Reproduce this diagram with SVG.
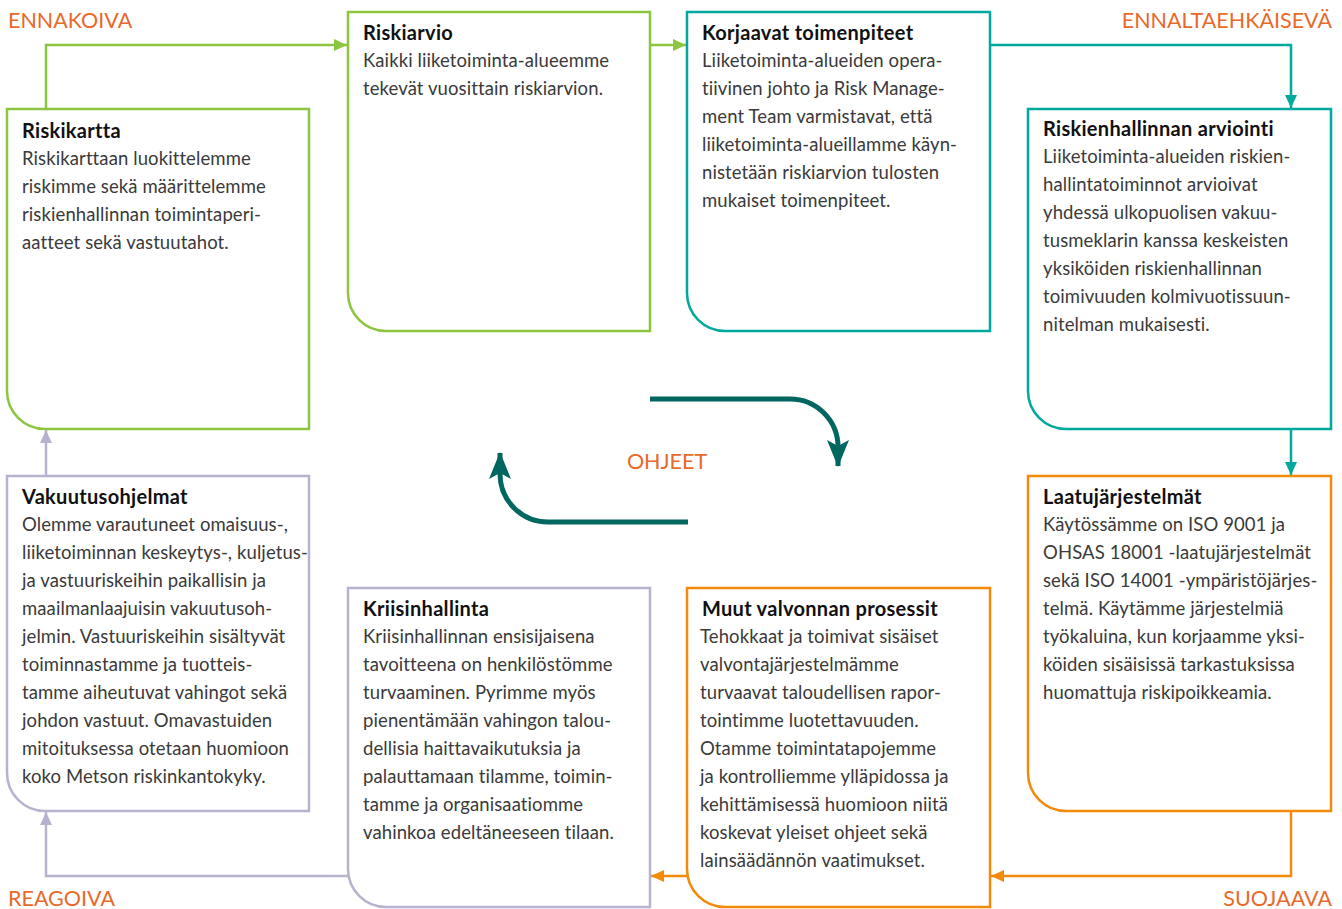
<svg xmlns="http://www.w3.org/2000/svg" width="1342" height="909" viewBox="0 0 1342 909">
<style>
  .box{fill:#fff;stroke-width:2.5}
  .g{stroke:#8cc540}
  .t{stroke:#00a99d}
  .o{stroke:#f28a0a}
  .l{stroke:#b9b2cf}
  .ttl{font-family:Lato,"Open Sans",sans-serif;font-weight:bold;font-size:20px;letter-spacing:0.3px;fill:#111}
  .bd{font-family:Lato,"Open Sans",sans-serif;font-size:18.5px;letter-spacing:0.1px;fill:#3a3a3a}
  .lab{font-family:Lato,"Open Sans",sans-serif;font-size:21.5px;fill:#e8692a}
  .con{fill:none;stroke-width:2.5}
  .cen{fill:none;stroke:#006760;stroke-width:5}
</style>
<defs>
  <marker id="ag" markerUnits="userSpaceOnUse" markerWidth="14" markerHeight="12" refX="13" refY="6" orient="auto"><path d="M0,0 L13,6 L0,12 Z" fill="#8cc540"/></marker>
  <marker id="at" markerUnits="userSpaceOnUse" markerWidth="14" markerHeight="12" refX="13" refY="6" orient="auto"><path d="M0,0 L13,6 L0,12 Z" fill="#00a99d"/></marker>
  <marker id="ao" markerUnits="userSpaceOnUse" markerWidth="14" markerHeight="12" refX="13" refY="6" orient="auto"><path d="M0,0 L13,6 L0,12 Z" fill="#f28a0a"/></marker>
  <marker id="al" markerUnits="userSpaceOnUse" markerWidth="14" markerHeight="12" refX="13" refY="6" orient="auto"><path d="M0,0 L13,6 L0,12 Z" fill="#b9b2cf"/></marker>
  <marker id="ac" markerUnits="userSpaceOnUse" markerWidth="28" markerHeight="22" refX="26" refY="11" orient="auto"><path d="M0,0 L27,11 L0,22 L6,11 Z" fill="#006760"/></marker>
</defs>

<g id="connectors">
  <path class="con g" d="M46,109 V45 H347" marker-end="url(#ag)"/>
  <path class="con g" d="M650,45 H686" marker-end="url(#ag)"/>
  <path class="con t" d="M990,45 H1291 V108" marker-end="url(#at)"/>
  <path class="con t" d="M1291,429 V475" marker-end="url(#at)"/>
  <path class="con o" d="M1291,811 V876 H991" marker-end="url(#ao)"/>
  <path class="con o" d="M687,876 H651" marker-end="url(#ao)"/>
  <path class="con l" d="M348,876 H46 V812" marker-end="url(#al)"/>
  <path class="con l" d="M46,476 V430" marker-end="url(#al)"/>
  <path class="cen" d="M650,399 H790 A48,48 0 0 1 838,447 V466" marker-end="url(#ac)"/>
  <path class="cen" d="M688,522 H548 A48,48 0 0 1 500,474 V453" marker-end="url(#ac)"/>
</g>

<g id="labels">
  <text class="lab" x="8" y="28">ENNAKOIVA</text>
  <text class="lab" x="1332" y="28" text-anchor="end">ENNALTAEHKÄISEVÄ</text>
  <text class="lab" x="8" y="906">REAGOIVA</text>
  <text class="lab" x="1332" y="906" text-anchor="end">SUOJAAVA</text>
  <text class="lab" x="667" y="469" text-anchor="middle">OHJEET</text>
</g>

<g id="riskikartta">
  <path class="box g" d="M7,109 H309 V429 H45 A38,38 0 0 1 7,391 Z"/>
  <text class="ttl" x="22" y="138">Riskikartta</text>
  <text class="bd" x="22" y="165">Riskikarttaan luokittelemme</text>
  <text class="bd" x="22" y="193">riskimme sekä määrittelemme</text>
  <text class="bd" x="22" y="221">riskienhallinnan toimintaperi-</text>
  <text class="bd" x="22" y="249">aatteet sekä vastuutahot.</text>
</g>

<g id="riskiarvio">
  <path class="box g" d="M348,12 H650 V331 H386 A38,38 0 0 1 348,293 Z"/>
  <text class="ttl" x="363" y="40">Riskiarvio</text>
  <text class="bd" x="363" y="67">Kaikki liiketoiminta-alueemme</text>
  <text class="bd" x="363" y="95">tekevät vuosittain riskiarvion.</text>
</g>

<g id="korjaavat">
  <path class="box t" d="M687,12 H990 V331 H725 A38,38 0 0 1 687,293 Z"/>
  <text class="ttl" x="702" y="40">Korjaavat toimenpiteet</text>
  <text class="bd" x="702" y="67">Liiketoiminta-alueiden opera-</text>
  <text class="bd" x="702" y="95">tiivinen johto ja Risk Manage-</text>
  <text class="bd" x="702" y="123">ment Team varmistavat, että</text>
  <text class="bd" x="702" y="151">liiketoiminta-alueillamme käyn-</text>
  <text class="bd" x="702" y="179">nistetään riskiarvion tulosten</text>
  <text class="bd" x="702" y="207">mukaiset toimenpiteet.</text>
</g>

<g id="arviointi">
  <path class="box t" d="M1028,109 H1331 V429 H1066 A38,38 0 0 1 1028,391 Z"/>
  <text class="ttl" x="1043" y="136">Riskienhallinnan arviointi</text>
  <text class="bd" x="1043" y="163">Liiketoiminta-alueiden riskien-</text>
  <text class="bd" x="1043" y="191">hallintatoiminnot arvioivat</text>
  <text class="bd" x="1043" y="219">yhdessä ulkopuolisen vakuu-</text>
  <text class="bd" x="1043" y="247">tusmeklarin kanssa keskeisten</text>
  <text class="bd" x="1043" y="275">yksiköiden riskienhallinnan</text>
  <text class="bd" x="1043" y="303">toimivuuden kolmivuotissuun-</text>
  <text class="bd" x="1043" y="331">nitelman mukaisesti.</text>
</g>

<g id="laatu">
  <path class="box o" d="M1028,476 H1331 V811 H1066 A38,38 0 0 1 1028,773 Z"/>
  <text class="ttl" x="1043" y="504">Laatujärjestelmät</text>
  <text class="bd" x="1043" y="531">Käytössämme on ISO 9001 ja</text>
  <text class="bd" x="1043" y="559">OHSAS 18001 -laatujärjestelmät</text>
  <text class="bd" x="1043" y="587">sekä ISO 14001 -ympäristöjärjes-</text>
  <text class="bd" x="1043" y="615">telmä. Käytämme järjestelmiä</text>
  <text class="bd" x="1043" y="643">työkaluina, kun korjaamme yksi-</text>
  <text class="bd" x="1043" y="671">köiden sisäisissä tarkastuksissa</text>
  <text class="bd" x="1043" y="699">huomattuja riskipoikkeamia.</text>
</g>

<g id="muut">
  <path class="box o" d="M687,588 H990 V907 H725 A38,38 0 0 1 687,869 Z"/>
  <text class="ttl" x="702" y="616">Muut valvonnan prosessit</text>
  <text class="bd" x="700" y="643">Tehokkaat ja toimivat sisäiset</text>
  <text class="bd" x="700" y="671">valvontajärjestelmämme</text>
  <text class="bd" x="700" y="699">turvaavat taloudellisen rapor-</text>
  <text class="bd" x="700" y="727">tointimme luotettavuuden.</text>
  <text class="bd" x="700" y="755">Otamme toimintatapojemme</text>
  <text class="bd" x="700" y="783">ja kontrolliemme ylläpidossa ja</text>
  <text class="bd" x="700" y="811">kehittämisessä huomioon niitä</text>
  <text class="bd" x="700" y="839">koskevat yleiset ohjeet sekä</text>
  <text class="bd" x="700" y="867">lainsäädännön vaatimukset.</text>
</g>

<g id="kriisi">
  <path class="box l" d="M348,588 H650 V907 H386 A38,38 0 0 1 348,869 Z"/>
  <text class="ttl" x="363" y="616">Kriisinhallinta</text>
  <text class="bd" x="363" y="643">Kriisinhallinnan ensisijaisena</text>
  <text class="bd" x="363" y="671">tavoitteena on henkilöstömme</text>
  <text class="bd" x="363" y="699">turvaaminen. Pyrimme myös</text>
  <text class="bd" x="363" y="727">pienentämään vahingon talou-</text>
  <text class="bd" x="363" y="755">dellisia haittavaikutuksia ja</text>
  <text class="bd" x="363" y="783">palauttamaan tilamme, toimin-</text>
  <text class="bd" x="363" y="811">tamme ja organisaatiomme</text>
  <text class="bd" x="363" y="839">vahinkoa edeltäneeseen tilaan.</text>
</g>

<g id="vakuutus">
  <path class="box l" d="M7,476 H309 V811 H45 A38,38 0 0 1 7,773 Z"/>
  <text class="ttl" x="22" y="504">Vakuutusohjelmat</text>
  <text class="bd" x="22" y="531">Olemme varautuneet omaisuus-,</text>
  <text class="bd" x="22" y="559">liiketoiminnan keskeytys-, kuljetus-</text>
  <text class="bd" x="22" y="587">ja vastuuriskeihin paikallisin ja</text>
  <text class="bd" x="22" y="615">maailmanlaajuisin vakuutusoh-</text>
  <text class="bd" x="22" y="643">jelmin. Vastuuriskeihin sisältyvät</text>
  <text class="bd" x="22" y="671">toiminnastamme ja tuotteis-</text>
  <text class="bd" x="22" y="699">tamme aiheutuvat vahingot sekä</text>
  <text class="bd" x="22" y="727">johdon vastuut. Omavastuiden</text>
  <text class="bd" x="22" y="755">mitoituksessa otetaan huomioon</text>
  <text class="bd" x="22" y="783">koko Metson riskinkantokyky.</text>
</g>
</svg>
